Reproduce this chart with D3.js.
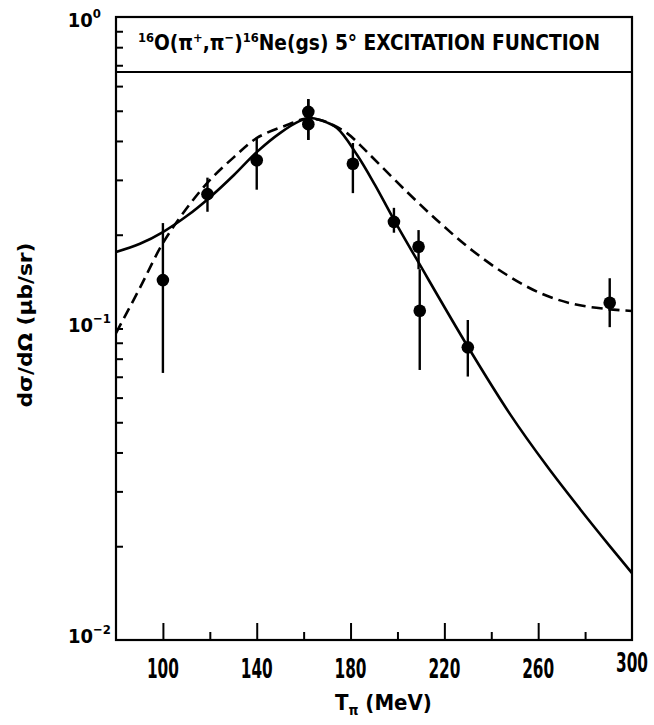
<!DOCTYPE html>
<html>
<head>
<meta charset="utf-8">
<script src="https://cdn.jsdelivr.net/npm/d3@7/dist/d3.min.js"></script>
<style>
  body { margin: 0; background: #fff; }
  text { font-family: "DejaVu Sans", sans-serif; font-stretch: condensed; font-weight: bold; fill: #000; }
</style>
</head>
<body>
<script>
// measured points (pion energy in MeV, cross section in ub/sr)
const pointT = [100, 119, 140, 162, 162, 181, 198.5, 209, 209.5, 230, 290.5];
const pointSigma = [0.143, 0.270, 0.347, 0.496, 0.453, 0.338, 0.220, 0.183, 0.114, 0.087, 0.121];
const pointLow = [0.072, 0.237, 0.279, 0.403, 0.403, 0.272, 0.203, 0.155, 0.0736, 0.0701, 0.101];
const pointHigh = [0.218, 0.305, 0.409, 0.545, 0.545, 0.394, 0.244, 0.207, 0.155, 0.1065, 0.145];

// solid calculation
const solidT = [80, 90.2, 100, 110.3, 120.1, 130.3, 140.1, 149.9, 158.4, 162.7, 167, 174.2, 182.8, 190.4, 198.1, 209.6, 230.1, 248, 263.8, 277.9, 290.7, 300];
const solidSigma = [0.176, 0.187, 0.204, 0.230, 0.264, 0.311, 0.369, 0.424, 0.464, 0.474, 0.467, 0.440, 0.3605, 0.289, 0.2263, 0.160, 0.0872, 0.0531, 0.0361, 0.0263, 0.01995, 0.0164];

// dashed calculation
const dashT = [80, 90.2, 100, 110.3, 120.1, 130.3, 140.1, 152.9, 160.6, 167, 172.5, 178.5, 184.1, 189.6, 204.1, 218.2, 232.2, 246.7, 260.8, 274.9, 289.4, 300];
const dashSigma = [0.0967, 0.135, 0.188, 0.244, 0.300, 0.355, 0.409, 0.450, 0.471, 0.467, 0.450, 0.424, 0.388, 0.3526, 0.2743, 0.218, 0.1773, 0.1485, 0.130, 0.1199, 0.1155, 0.1138];

const xMinorTicks = [100, 120, 140, 160, 180, 200, 220, 240, 260, 280];
const xLabels = [100, 140, 180, 220, 260, 300];
const yTicks = [0.02, 0.03, 0.04, 0.05, 0.06, 0.07, 0.08, 0.09, 0.1, 0.2, 0.3, 0.4, 0.5, 0.6, 0.7, 0.8, 0.9];
const yLabels = [{v: 1, exp: "0"}, {v: 0.1, exp: "\u22121"}, {v: 0.01, exp: "\u22122"}];

const w = 654, h = 725;
const plotL = 116, plotR = 632, plotT = 17, plotB = 640;

const svg = d3.select("body").append("svg")
  .attr("width", w)
  .attr("height", h);

const x = d3.scaleLinear().domain([80, 300]).range([plotL, plotR]);
const y = d3.scaleLog().domain([0.01, 1]).range([plotB, plotT]);

// frame
svg.append("rect")
  .attr("x", plotL).attr("y", plotT)
  .attr("width", plotR - plotL).attr("height", plotB - plotT)
  .attr("fill", "none").attr("stroke", "#000").attr("stroke-width", 2.2);

// title box line
svg.append("line")
  .attr("x1", plotL).attr("x2", plotR)
  .attr("y1", 72).attr("y2", 72)
  .attr("stroke", "#000").attr("stroke-width", 2);

// y ticks, inside the left edge
const yAxis = d3.axisRight(y).tickValues(yTicks).tickSize(7).tickFormat("");
const gy = svg.append("g").attr("transform", "translate(" + plotL + ",0)").call(yAxis);
gy.select(".domain").remove();
gy.selectAll("line").attr("stroke-width", 2);

// x ticks, going up from the bottom edge
const xAxis = d3.axisTop(x).tickValues(xMinorTicks).tickFormat("");
const gx = svg.append("g").attr("transform", "translate(0," + plotB + ")").call(xAxis);
gx.select(".domain").remove();
gx.selectAll("line")
  .attr("y2", d => (d % 40 === 20 ? -17 : -8))
  .attr("stroke-width", 2);

// x labels (squeezed to the narrow lettering of the original)
svg.append("g").selectAll("text")
  .data(xLabels)
  .enter().append("text")
  .attr("text-anchor", "middle")
  .attr("font-size", 27)
  .text(d => d)
  .each(function (d) {
    const k = 32 / this.getComputedTextLength();
    const ty = d === 300 ? 672 : 678;
    d3.select(this).attr("transform", "translate(" + x(d) + "," + ty + ") scale(" + k + ",1)");
  });

// y labels
const yl = svg.append("g").selectAll("text")
  .data(yLabels)
  .enter().append("text")
  .attr("x", d => (d.v === 1 ? 101 : 111))
  .attr("y", d => y(d.v) + (d.v === 1 ? 10 : 3))
  .attr("text-anchor", "end")
  .attr("font-size", 20);
yl.append("tspan").text("10");
yl.append("tspan").attr("dy", -9).attr("font-size", 13).text(d => d.exp);

// curves
const line = d3.line()
  .x(d => x(d[0]))
  .y(d => y(d[1]))
  .curve(d3.curveCatmullRom.alpha(0.5));

svg.append("path")
  .datum(solidT.map((t, i) => [t, solidSigma[i]]))
  .attr("d", line)
  .attr("fill", "none").attr("stroke", "#000").attr("stroke-width", 2.6);

svg.append("path")
  .datum(dashT.map((t, i) => [t, dashSigma[i]]))
  .attr("d", line)
  .attr("fill", "none").attr("stroke", "#000").attr("stroke-width", 2.6)
  .attr("stroke-dasharray", "11,6");

// error bars and points
const pts = pointT.map((t, i) => ({t: t, s: pointSigma[i], lo: pointLow[i], hi: pointHigh[i]}));

svg.append("g").selectAll("line")
  .data(pts)
  .enter().append("line")
  .attr("x1", d => x(d.t)).attr("x2", d => x(d.t))
  .attr("y1", d => y(d.hi)).attr("y2", d => y(d.lo))
  .attr("stroke", "#000").attr("stroke-width", 2.4);

svg.append("g").selectAll("circle")
  .data(pts)
  .enter().append("circle")
  .attr("cx", d => x(d.t))
  .attr("cy", d => y(d.s))
  .attr("r", 6.3)
  .attr("fill", "#000");

// title
const title = svg.append("text")
  .attr("x", 138).attr("y", 50)
  .attr("font-size", 21)
  .attr("textLength", 462)
  .attr("lengthAdjust", "spacingAndGlyphs");
title.append("tspan").attr("font-size", 13).attr("dy", -8).text("16");
title.append("tspan").attr("dy", 8).text("O(\u03c0");
title.append("tspan").attr("font-size", 13).attr("dy", -8).text("+");
title.append("tspan").attr("dy", 8).text(",\u03c0");
title.append("tspan").attr("font-size", 13).attr("dy", -8).text("\u2212");
title.append("tspan").attr("dy", 8).text(")");
title.append("tspan").attr("font-size", 13).attr("dy", -8).text("16");
title.append("tspan").attr("dy", 8).text("Ne(gs) 5\u00b0 EXCITATION FUNCTION");

// y axis title
svg.append("text")
  .attr("transform", "translate(32,325) rotate(-90)")
  .attr("text-anchor", "middle")
  .attr("font-size", 20)
  .attr("textLength", 165)
  .attr("lengthAdjust", "spacingAndGlyphs")
  .text("d\u03c3/d\u03a9  (\u03bcb/sr)");

// x axis title
const xt = svg.append("text")
  .attr("x", 335).attr("y", 710)
  .attr("font-size", 22);
xt.append("tspan").text("T");
xt.append("tspan").attr("font-size", 14).attr("dy", 5).text("\u03c0");
xt.append("tspan").attr("dy", -5).text("  (MeV)");
</script>
</body>
</html>
